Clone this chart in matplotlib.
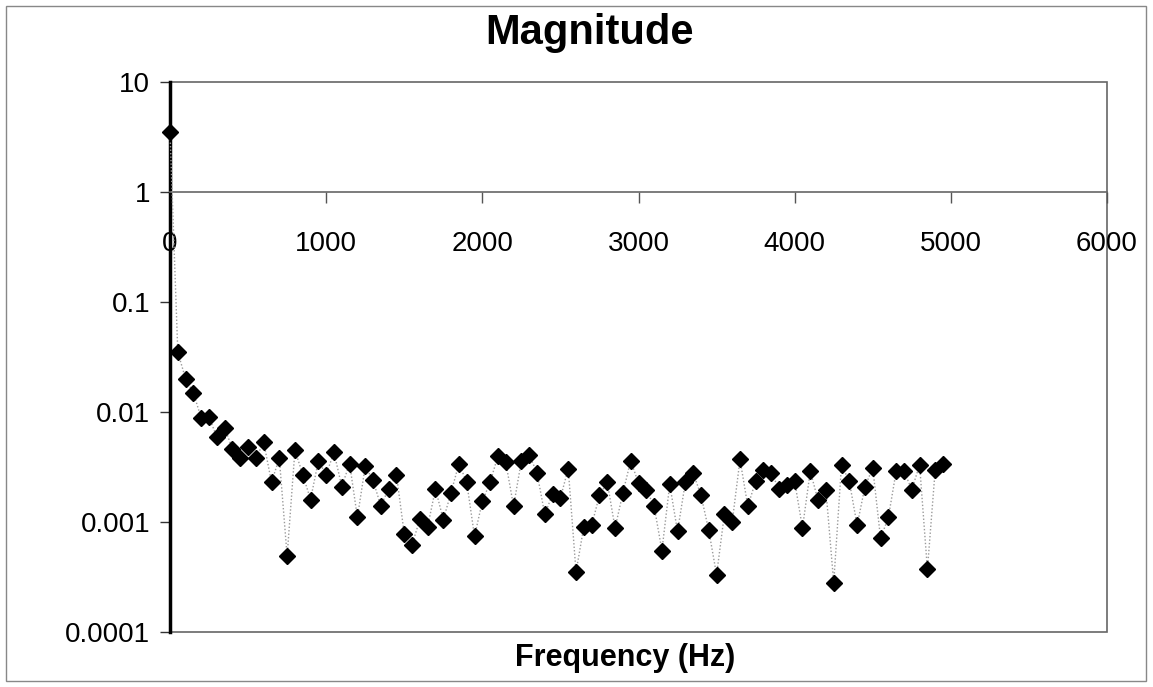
import matplotlib
matplotlib.use("Agg")
import matplotlib.pyplot as plt
import numpy as np
from matplotlib.patches import Rectangle
from matplotlib.ticker import FixedLocator, NullLocator

plt.rcParams["font.family"] = ["Liberation Sans", "DejaVu Sans"]

# Spectrum bins (Hz) and their magnitudes
freq = np.arange(0, 5000, 50)
mag = [
    3.5, 0.035, 0.020, 0.0149, 0.0088, 0.0090, 0.0059, 0.0072, 0.0046, 0.0038,
    0.0048, 0.0038, 0.0053, 0.0023, 0.0038, 0.00049, 0.0045, 0.0027, 0.0016, 0.0036,
    0.0027, 0.0043, 0.0021, 0.0034, 0.0011, 0.0032, 0.0024, 0.0014, 0.0020, 0.0027,
    0.00078, 0.00062, 0.00106, 0.00091, 0.0020, 0.00105, 0.00185, 0.0034, 0.0023, 0.00074,
    0.00154, 0.0023, 0.0040, 0.0035, 0.00139, 0.0036, 0.0041, 0.0028, 0.00117, 0.0018,
    0.00165, 0.00306, 0.00035, 0.00091, 0.00093, 0.00175, 0.0023, 0.00088, 0.00184, 0.0036,
    0.00226, 0.00197, 0.00139, 0.00055, 0.0022, 0.00082, 0.0023, 0.0028, 0.00175, 0.00084,
    0.00033, 0.00118, 0.0010, 0.0037, 0.00139, 0.00234, 0.0030, 0.0028, 0.0020, 0.00216,
    0.00234, 0.00088, 0.0029, 0.00157, 0.00197, 0.00028, 0.0033, 0.00234, 0.00093, 0.0021,
    0.0031, 0.00071, 0.0011, 0.0029, 0.0029, 0.00197, 0.0033, 0.00037, 0.0030, 0.0034,
]

x_ticks = [0, 1000, 2000, 3000, 4000, 5000, 6000]
x_tick_labels = ["0", "1000", "2000", "3000", "4000", "5000", "6000"]
y_ticks = [1e-4, 1e-3, 1e-2, 1e-1, 1, 10]
y_tick_labels = ["0.0001", "0.001", "0.01", "0.1", "1", "10"]

title = "Magnitude"
x_label = "Frequency (Hz)"

W, H = 1153, 687
fig = plt.figure(figsize=(W / 100, H / 100), dpi=100)
fig.patch.set_facecolor("white")

ax = fig.add_axes([170 / W, 1 - 632 / H, 937 / W, 550 / H])
ax.set_yscale("log")
ax.set_xlim(0, 6000)
ax.set_ylim(1e-4, 10)

ax.plot(freq, mag, linestyle=(0, (1, 1.5)), color="#9a9a9a", lw=1.0,
        marker="D", ms=8, mfc="black", mec="black", zorder=3, clip_on=False)

# axes: value axis on the left, category axis crossing at 1
ax.yaxis.set_major_locator(FixedLocator(y_ticks))
ax.yaxis.set_minor_locator(NullLocator())
ax.set_yticklabels(y_tick_labels)
ax.set_xticks(x_ticks)
ax.set_xticklabels(x_tick_labels)

ax.spines["bottom"].set_position(("data", 1.0))
ax.spines["bottom"].set_color("#666666")
ax.spines["bottom"].set_linewidth(1.2)
ax.spines["left"].set_color("black")
ax.spines["left"].set_linewidth(2.5)
ax.spines["top"].set_visible(False)
ax.spines["right"].set_visible(False)

ax.tick_params(axis="x", direction="out", length=8, width=1, color="#555555",
               pad=20, labelsize=20)
ax.tick_params(axis="y", direction="out", length=7.2, width=1, color="#333333",
               pad=7, labelsize=20)

# plot-area frame
ax.add_patch(Rectangle((0, 0), 1, 1, transform=ax.transAxes, fill=False,
                       ec="#666666", lw=1.2, clip_on=False, zorder=1))

# chart-area frame
fig.patches.append(Rectangle((6 / W, 6 / H), (1140) / W, (675) / H,
                             transform=fig.transFigure, fill=False,
                             ec="#888888", lw=1.0))

fig.text(590 / W, 1 - 33 / H, title, ha="center", va="center",
         fontsize=30, fontweight="bold")
fig.text(625 / W, 1 - 658 / H, x_label, ha="center", va="center",
         fontsize=22, fontweight="bold")

fig.savefig("out.png", dpi=100)
